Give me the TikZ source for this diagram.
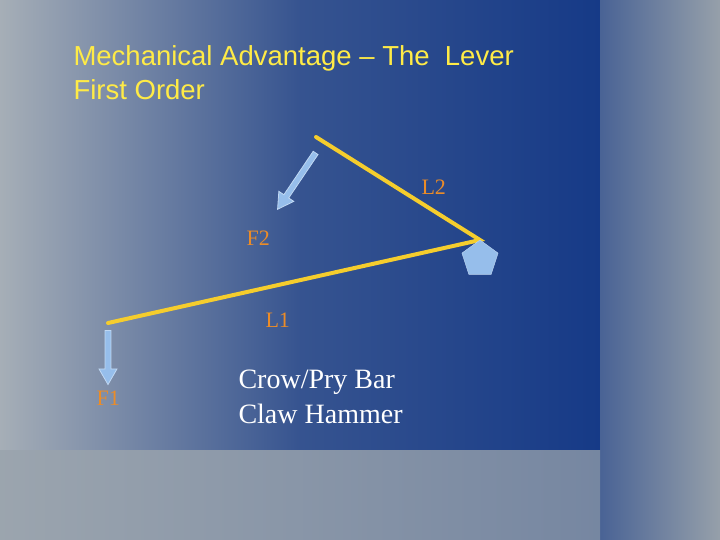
\documentclass[tikz,border=0pt]{standalone}
\usepackage{fontspec}
\newfontfamily\sansf{Liberation Sans}
\newfontfamily\seriff{Liberation Serif}
\usetikzlibrary{shapes.geometric,shapes.arrows}
\definecolor{bgblue}{RGB}{22,58,135}
\definecolor{bggray}{RGB}{150,160,170}
\definecolor{lever}{RGB}{245,205,45}
\definecolor{lblue}{RGB}{150,190,235}
\definecolor{lab}{RGB}{235,140,40}
\definecolor{ttl}{RGB}{255,235,70}
\tikzset{
  bar/.style={draw=lever,line width=4pt,line cap=round},
  farrow/.style={single arrow,fill=lblue,draw=lblue!60!white,line width=0.8pt,minimum width=18pt,single arrow head extend=5pt,single arrow tip angle=60,inner sep=2pt},
  lbl/.style={text=lab,font=\seriff\fontsize{22}{26}\selectfont,anchor=west},
  title/.style={text=ttl,font=\sansf\fontsize{27.5}{32}\selectfont,anchor=west},
  body/.style={text=white,font=\seriff\fontsize{28}{32}\selectfont,anchor=west}
}
\begin{document}
\begin{tikzpicture}[x=1pt,y=-1pt]
\useasboundingbox (0,0) rectangle (720,540);
\shade[left color=bggray!85!white,right color=bgblue,middle color=bgblue!75!bggray] (0,0) rectangle (600,450);
\shade[left color=bgblue!60!bggray,right color=bggray] (600,0) rectangle (720,540);
\shade[left color=bggray!95!white,right color=bggray!75!bgblue] (0,450) rectangle (600,540);
\node[title] (t1) at (70,58) {Mechanical Advantage \textendash{} The\ \ Lever};
\node[title] (t2) at (70,90) {First Order};
\coordinate (a) at (108,323);
\coordinate (p) at (480,240);
\coordinate (b) at (316,137);
\draw[bar] (a) -- (p) -- (b);
\node[regular polygon,regular polygon sides=5,fill=lblue,draw=lblue!60!white,minimum size=38pt,inner sep=0pt] (piv) at (480,259) {};
\node[farrow,minimum height=68pt,rotate=-124] (f2) at (298,179) {};
\node[farrow,minimum height=54pt,rotate=-90] (f1) at (108,355) {};
\node[lbl] (l2) at (418,187) {L2};
\node[lbl] (lf2) at (243,238) {F2};
\node[lbl] (l1) at (262,320) {L1};
\node[lbl] (lf1) at (93,398) {F1};
\node[body] (c1) at (235,382) {Crow/Pry Bar};
\node[body] (c2) at (235,414) {Claw Hammer};
\end{tikzpicture}
\end{document}
